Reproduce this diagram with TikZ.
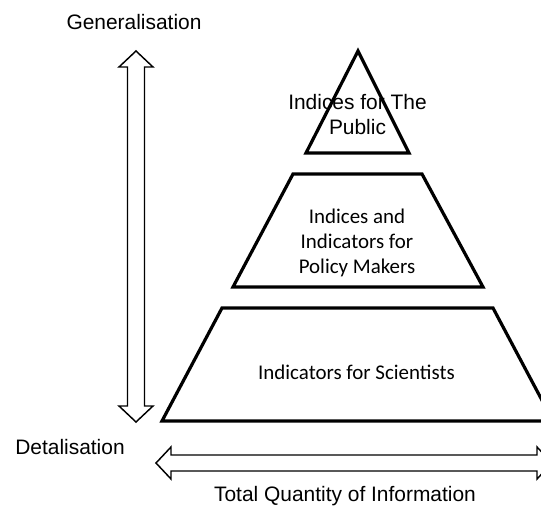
\documentclass[tikz,border=0pt]{standalone}
\usepackage{fontspec}
\setmainfont{Liberation Sans}
\newfontfamily\calib{Carlito}
\begin{document}
\begin{tikzpicture}[x=0.75pt,y=-0.75pt,
  level/.style={draw=black,line width=2.4pt,line join=miter,fill=white},
  fatarrow/.style={draw=black,line width=1.1pt,line join=miter,fill=white},
  lbl/.style={font=\fontsize{15.7pt}{18.8pt}\selectfont,inner sep=0pt},
  inlbl/.style={font=\calib\fontsize{15.7pt}{18.75pt}\selectfont,inner sep=0pt,align=center}]
\useasboundingbox (0,0) rectangle (541,509);
\clip (0,0) rectangle (541,509);
% vertical double arrow
\draw[fatarrow] (136,51) -- (153,67) -- (144.5,67) -- (144.5,406) -- (153,406) -- (136,422)
  -- (119,406) -- (127.5,406) -- (127.5,67) -- (119,67) -- cycle;
% horizontal double arrow
\draw[fatarrow] (156,463) -- (171,447) -- (171,455) -- (537,455) -- (537,447) -- (552,463)
  -- (537,479) -- (537,471) -- (171,471) -- (171,479) -- cycle;
% pyramid levels
\draw[level] (358,51) -- (409,153) -- (306,153) -- cycle;
\draw[level] (293,174) -- (422,174) -- (483,287) -- (233,287) -- cycle;
\draw[level] (222,308) -- (493,308) -- (553,421) -- (162,421) -- cycle;
% texts
\node[lbl] (gen) at (134,22) {Generalisation};
\node[lbl] (det) at (70,447) {Detalisation};
\node[lbl] (tqi) at (345,496) {Total Quantity of Information};
\node[lbl] (pub1) at (357.5,102) {Indices for The};
\node[lbl] (pub2) at (357.5,127) {Public};
\node[inlbl] (pol) at (357,243) {Indices and\\Indicators for\\Policy Makers};
\node[inlbl] (sci) at (356.5,372) {Indicators for Scientists};
\end{tikzpicture}
\end{document}
